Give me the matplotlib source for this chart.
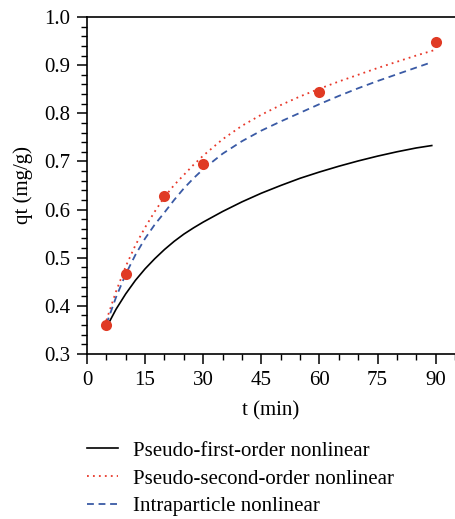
import matplotlib
matplotlib.use("Agg")
import matplotlib.pyplot as plt
from matplotlib.ticker import MultipleLocator

# Experimental data
t_exp = [5, 10, 20, 30, 60, 90]
q_exp = [0.360, 0.467, 0.628, 0.695, 0.845, 0.948]

# Model curves
t_pfo = [5, 7.5, 10, 12.5, 15, 17.5, 20, 22.5, 25, 27.5, 30, 35, 40, 45, 50, 55, 60, 65, 70, 75, 80, 85, 89]
q_pfo = [0.355, 0.393, 0.425, 0.453, 0.477, 0.498, 0.517, 0.534, 0.549, 0.562, 0.574, 0.596,
         0.616, 0.634, 0.650, 0.665, 0.678, 0.690, 0.701, 0.711, 0.720, 0.728, 0.733]

t_pso = [5, 7.5, 10, 12.5, 15, 17.5, 20, 22.5, 25, 27.5, 30, 35, 40, 45, 50, 55, 60, 65, 70, 75, 80, 85, 90]
q_pso = [0.370, 0.430, 0.482, 0.526, 0.563, 0.596, 0.626, 0.651, 0.672, 0.693, 0.712, 0.746,
         0.774, 0.797, 0.817, 0.835, 0.851, 0.866, 0.880, 0.894, 0.907, 0.920, 0.932]

t_ipd = [5, 7.5, 10, 12.5, 15, 17.5, 20, 22.5, 25, 27.5, 30, 35, 40, 45, 50, 55, 60, 65, 70, 75, 80, 85, 88.6]
q_ipd = [0.362, 0.418, 0.466, 0.506, 0.540, 0.569, 0.594, 0.620, 0.644, 0.665, 0.684, 0.716,
         0.742, 0.764, 0.783, 0.801, 0.819, 0.836, 0.852, 0.867, 0.881, 0.895, 0.905]

labels = ["Pseudo-first-order nonlinear", "Pseudo-second-order nonlinear", "Intraparticle nonlinear"]
x_ticks = [0, 15, 30, 45, 60, 75, 90]
y_ticks = [0.3, 0.4, 0.5, 0.6, 0.7, 0.8, 0.9, 1.0]

plt.rcParams['font.family'] = ['Liberation Serif', 'DejaVu Serif']

FS = 15
W, H = 455, 519
fig = plt.figure(figsize=(W / 100, H / 100), dpi=100)
ax = fig.add_axes([87 / W, 1 - 354 / H, (W - 87) / W, 337 / H])

l1, = ax.plot(t_pfo, q_pfo, color='black', lw=1.2, ls='-')
l2, = ax.plot(t_pso, q_pso, color='#e8382a', lw=1.3, ls=(0, (1, 2.3)))
l3, = ax.plot(t_ipd, q_ipd, color='#3a5aa5', lw=1.3, ls=(0, (3.8, 2.6)))
ax.plot(t_exp, q_exp, 'o', color='#e03a24', ms=8, mec='none', zorder=5)

ax.set_xlim(0, 95)
ax.set_ylim(0.3, 1.0)
ax.set_xticks(x_ticks)
ax.set_yticks(y_ticks)
ax.set_yticklabels([f"{v:.1f}" for v in y_ticks])
ax.xaxis.set_minor_locator(MultipleLocator(5))
ax.yaxis.set_minor_locator(MultipleLocator(0.02))
ax.tick_params(which='major', direction='out', length=7, width=1.1, labelsize=FS, pad=5)
ax.tick_params(which='minor', direction='out', length=4, width=1.0)
ax.tick_params(axis='x', which='both', top=False)
ax.tick_params(axis='y', which='both', right=False)
for s in ['left', 'bottom', 'top']:
    ax.spines[s].set_linewidth(1.2)
ax.spines['right'].set_visible(False)

ax.set_xlabel("t (min)", fontsize=FS, labelpad=8)
ax.set_ylabel("qt (mg/g)", fontsize=FS, labelpad=8)

fig.legend([l1, l2, l3], labels, loc='upper left',
           bbox_to_anchor=(87 / W, 1 - 441 / H), frameon=False, fontsize=FS,
           handlelength=1.5, handletextpad=0.7, labelspacing=0.4, borderpad=0,
           borderaxespad=0)

fig.savefig("out.png", dpi=100)
